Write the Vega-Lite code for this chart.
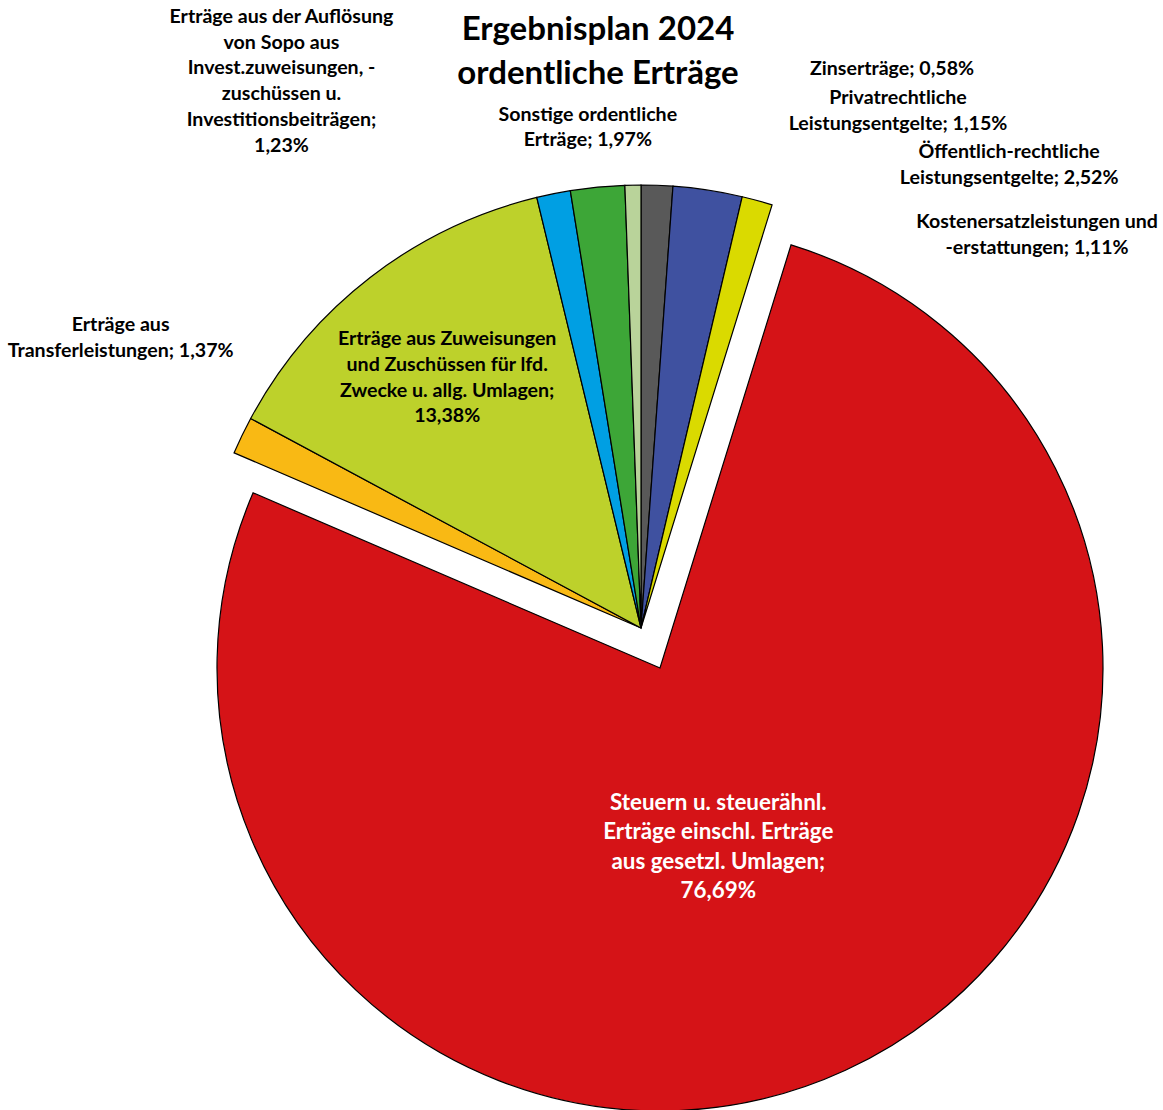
{
  "$schema": "https://vega.github.io/schema/vega-lite/v6.json",
  "width": 1044,
  "height": 964,
  "autosize": {"type": "none"},
  "padding": {"left": 119, "top": 146, "right": 0, "bottom": 0},
  "background": "white",
  "config": {"view": {"stroke": null}},
  "title": {
    "text": ["Ergebnisplan 2024", "ordentliche Erträge"],
    "font": "Lato",
    "fontWeight": "bold",
    "fontSize": 33,
    "lineHeight": 44,
    "color": "#000000",
    "anchor": "middle",
    "frame": "group",
    "baseline": "alphabetic",
    "offset": -110,
    "dx": -43
  },
  "data": {
    "values": [
      {"cat": "Privatrechtliche Leistungsentgelte", "ord": 1, "value": 1.15, "label": ["Privatrechtliche", "Leistungsentgelte; 1,15%"]},
      {"cat": "Öffentlich-rechtliche Leistungsentgelte", "ord": 2, "value": 2.52, "label": ["Öffentlich-rechtliche", "Leistungsentgelte; 2,52%"]},
      {"cat": "Kostenersatzleistungen und -erstattungen", "ord": 3, "value": 1.11, "label": ["Kostenersatzleistungen und", "-erstattungen; 1,11%"]},
      {"cat": "Steuern", "ord": 4, "value": 76.69, "label": ["Steuern u. steuerähnl.", "Erträge einschl. Erträge", "aus gesetzl. Umlagen;", "76,69%"]},
      {"cat": "Transferleistungen", "ord": 5, "value": 1.37, "label": ["Erträge aus", "Transferleistungen; 1,37%"]},
      {"cat": "Zuweisungen", "ord": 6, "value": 13.38, "label": ["Erträge aus Zuweisungen", "und Zuschüssen für lfd.", "Zwecke u. allg. Umlagen;", "13,38%"]},
      {"cat": "Auflösung Sopo", "ord": 7, "value": 1.23, "label": ["Erträge aus der Auflösung", "von Sopo aus", "Invest.zuweisungen, -", "zuschüssen u.", "Investitionsbeiträgen;", "1,23%"]},
      {"cat": "Sonstige", "ord": 8, "value": 1.97, "label": ["Sonstige ordentliche", "Erträge; 1,97%"]},
      {"cat": "Zinserträge", "ord": 9, "value": 0.58, "label": ["Zinserträge; 0,58%"]}
    ]
  },
  "encoding": {
    "theta": {"field": "value", "type": "quantitative", "stack": true},
    "order": {"field": "ord", "type": "quantitative", "sort": "ascending"}
  },
  "layer": [
    {
      "mark": {"type": "arc", "outerRadius": 443, "stroke": "#000000", "strokeWidth": 1.2},
      "encoding": {
        "color": {
          "field": "cat", "type": "nominal", "legend": null,
          "scale": {
            "domain": ["Privatrechtliche Leistungsentgelte", "Öffentlich-rechtliche Leistungsentgelte", "Kostenersatzleistungen und -erstattungen", "Steuern", "Transferleistungen", "Zuweisungen", "Auflösung Sopo", "Sonstige", "Zinserträge"],
            "range": ["#595959", "#3F51A0", "#DADA00", "#D51317", "#F9B914", "#BDD12B", "#009FE3", "#3DA637", "#B9D39A"]
          }
        },
        "opacity": {"condition": {"test": "datum.cat === 'Steuern'", "value": 0}, "value": 1}
      }
    },
    {
      "mark": {"type": "arc", "outerRadius": 443, "stroke": "#000000", "strokeWidth": 1.2, "xOffset": 19, "yOffset": 40},
      "encoding": {
        "color": {"field": "cat", "type": "nominal", "legend": null},
        "opacity": {"condition": {"test": "datum.cat === 'Steuern'", "value": 1}, "value": 0}
      }
    },
    {
      "mark": {"type": "text", "font": "Lato", "fontWeight": "bold", "fontSize": 22.4, "lineHeight": 29.5, "align": "center", "baseline": "middle", "color": "#FFFFFF", "radius": 230, "dx": -19, "dy": -34},
      "encoding": {"detail": {"field": "cat"}, "text": {"field": "label"}, "opacity": {"condition": {"test": "datum.cat === 'Steuern'", "value": 1}, "value": 0}}
    },
    {
      "mark": {"type": "text", "font": "Lato", "fontWeight": "bold", "fontSize": 19.6, "lineHeight": 25.7, "align": "center", "baseline": "middle", "color": "#000000", "radius": 317, "dx": 0, "dy": -38},
      "encoding": {"detail": {"field": "cat"}, "text": {"field": "label"}, "opacity": {"condition": {"test": "datum.cat === 'Zuweisungen'", "value": 1}, "value": 0}}
    },
    {
      "transform": [
        {"stack": "value", "groupby": [], "sort": [{"field": "ord", "order": "ascending"}], "as": ["s0", "s1"]},
        {"filter": "datum.cat === 'Zinserträge'"}
      ],
      "mark": {"type": "text", "font": "Lato", "fontWeight": "bold", "fontSize": 19.6, "lineHeight": 25.7, "align": "center", "baseline": "middle", "color": "#000000", "radius": 549, "dx": 271, "dy": -10},
      "encoding": {"theta": {"field": "s0", "type": "quantitative", "stack": null}, "text": {"field": "label"}}
    },
    {
      "transform": [
        {"stack": "value", "groupby": [], "sort": [{"field": "ord", "order": "ascending"}], "as": ["s0", "s1"]},
        {"filter": "datum.cat === 'Privatrechtliche Leistungsentgelte'"}
      ],
      "mark": {"type": "text", "font": "Lato", "fontWeight": "bold", "fontSize": 19.6, "lineHeight": 25.7, "align": "center", "baseline": "middle", "color": "#000000", "radius": 530, "dx": 257, "dy": 0},
      "encoding": {"theta": {"field": "s0", "type": "quantitative", "stack": null}, "text": {"field": "label"}}
    },
    {
      "transform": [
        {"stack": "value", "groupby": [], "sort": [{"field": "ord", "order": "ascending"}], "as": ["s0", "s1"]},
        {"filter": "datum.cat === 'Öffentlich-rechtliche Leistungsentgelte'"}
      ],
      "mark": {"type": "text", "font": "Lato", "fontWeight": "bold", "fontSize": 19.6, "lineHeight": 25.7, "align": "center", "baseline": "middle", "color": "#000000", "radius": 501, "dx": 332, "dy": 24},
      "encoding": {"theta": {"field": "s0", "type": "quantitative", "stack": null}, "text": {"field": "label"}}
    },
    {
      "transform": [
        {"stack": "value", "groupby": [], "sort": [{"field": "ord", "order": "ascending"}], "as": ["s0", "s1"]},
        {"filter": "datum.cat === 'Kostenersatzleistungen und -erstattungen'"}
      ],
      "mark": {"type": "text", "font": "Lato", "fontWeight": "bold", "fontSize": 19.6, "lineHeight": 25.7, "align": "center", "baseline": "middle", "color": "#000000", "radius": 486, "dx": 285, "dy": 67},
      "encoding": {"theta": {"field": "s0", "type": "quantitative", "stack": null}, "text": {"field": "label"}}
    },
    {
      "transform": [
        {"stack": "value", "groupby": [], "sort": [{"field": "ord", "order": "ascending"}], "as": ["s0", "s1"]},
        {"filter": "datum.cat === 'Transferleistungen'"}
      ],
      "mark": {"type": "text", "font": "Lato", "fontWeight": "bold", "fontSize": 19.6, "lineHeight": 25.7, "align": "center", "baseline": "middle", "color": "#000000", "radius": 597, "dx": 28, "dy": -67},
      "encoding": {"theta": {"field": "s0", "type": "quantitative", "stack": null}, "text": {"field": "label"}}
    },
    {
      "transform": [
        {"stack": "value", "groupby": [], "sort": [{"field": "ord", "order": "ascending"}], "as": ["s0", "s1"]},
        {"filter": "datum.cat === 'Auflösung Sopo'"}
      ],
      "mark": {"type": "text", "font": "Lato", "fontWeight": "bold", "fontSize": 19.6, "lineHeight": 25.7, "align": "center", "baseline": "middle", "color": "#000000", "radius": 678, "dx": -200, "dy": 48},
      "encoding": {"theta": {"field": "s0", "type": "quantitative", "stack": null}, "text": {"field": "label"}}
    },
    {
      "transform": [
        {"stack": "value", "groupby": [], "sort": [{"field": "ord", "order": "ascending"}], "as": ["s0", "s1"]},
        {"filter": "datum.cat === 'Sonstige'"}
      ],
      "mark": {"type": "text", "font": "Lato", "fontWeight": "bold", "fontSize": 19.6, "lineHeight": 25.7, "align": "center", "baseline": "middle", "color": "#000000", "radius": 515, "dx": 29, "dy": -5},
      "encoding": {"theta": {"field": "s0", "type": "quantitative", "stack": null}, "text": {"field": "label"}}
    }
  ]
}
